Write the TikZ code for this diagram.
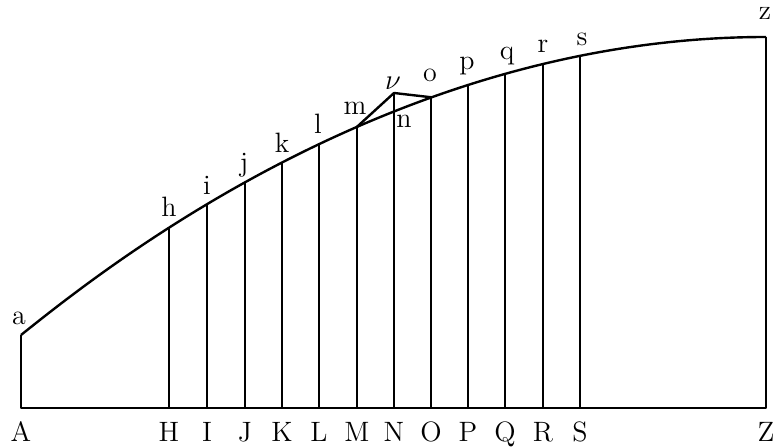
\documentclass[tikz,border=0pt]{standalone}
\begin{document}
\begin{tikzpicture}[x=0.5pt,y=-0.5pt,
  lab/.style={anchor=base,inner sep=0pt,font=\fontsize{14}{16}\selectfont},
  thick line/.style={line width=1.2pt,line join=round},
  thin line/.style={line width=0.65pt}]
\useasboundingbox (0,0) rectangle (776,448);
\pgfmathdeclarefunction{cy}{1}{\pgfmathparse{37+5.3691*((766-#1)/100)^2}}
% base and frame
\coordinate (A) at (21,408);
\coordinate (a) at (21,335);
\coordinate (Z) at (766,408);
\coordinate (z) at (766,37);
\draw[thick line] (a) -- (A) -- (Z) -- (z);
\draw[thick line] (a) parabola[bend at end] (z);
% ordinates
\foreach \nm/\x in {H/169,I/207,J/245,K/282,L/319,M/357,O/431,P/468,Q/505,R/543,S/580}{
  \pgfmathsetmacro{\yy}{cy(\x)}
  \coordinate (b\nm) at (\x,408);
  \coordinate (t\nm) at (\x,\yy);
  \draw[thin line] (b\nm) -- (t\nm);
}
\coordinate (bN) at (394,408);
\coordinate (nu) at (394,93);
\draw[thin line] (bN) -- (nu);
\draw[thick line] (tM) -- (nu) -- (tO);
% labels
\node[lab] (la) at (19,325) {a};
\node[lab] (lh) at (169,217) {h};
\node[lab] (li) at (207,195) {i};
\node[lab] (lj) at (244,172) {j};
\node[lab] (lk) at (282,153) {k};
\node[lab] (ll) at (318,134) {l};
\node[lab] (lm) at (355,115) {m};
\node[lab] (lnu) at (393,90) {$\nu$};
\node[lab] (ln) at (404,128) {n};
\node[lab] (lo) at (430,82) {o};
\node[lab] (lp) at (467,70) {p};
\node[lab] (lq) at (507,60) {q};
\node[lab] (lr) at (543,53) {r};
\node[lab] (ls) at (582,46) {s};
\node[lab] (lz) at (765,20) {z};
\foreach \nm/\x in {A/21,H/169,I/207,J/245,K/282,L/319,M/357,N/394,O/431,P/468,Q/505,R/543,S/580,Z/766}{
  \node[lab] (L\nm) at (\x,442) {\nm};
}
\end{tikzpicture}
\end{document}
